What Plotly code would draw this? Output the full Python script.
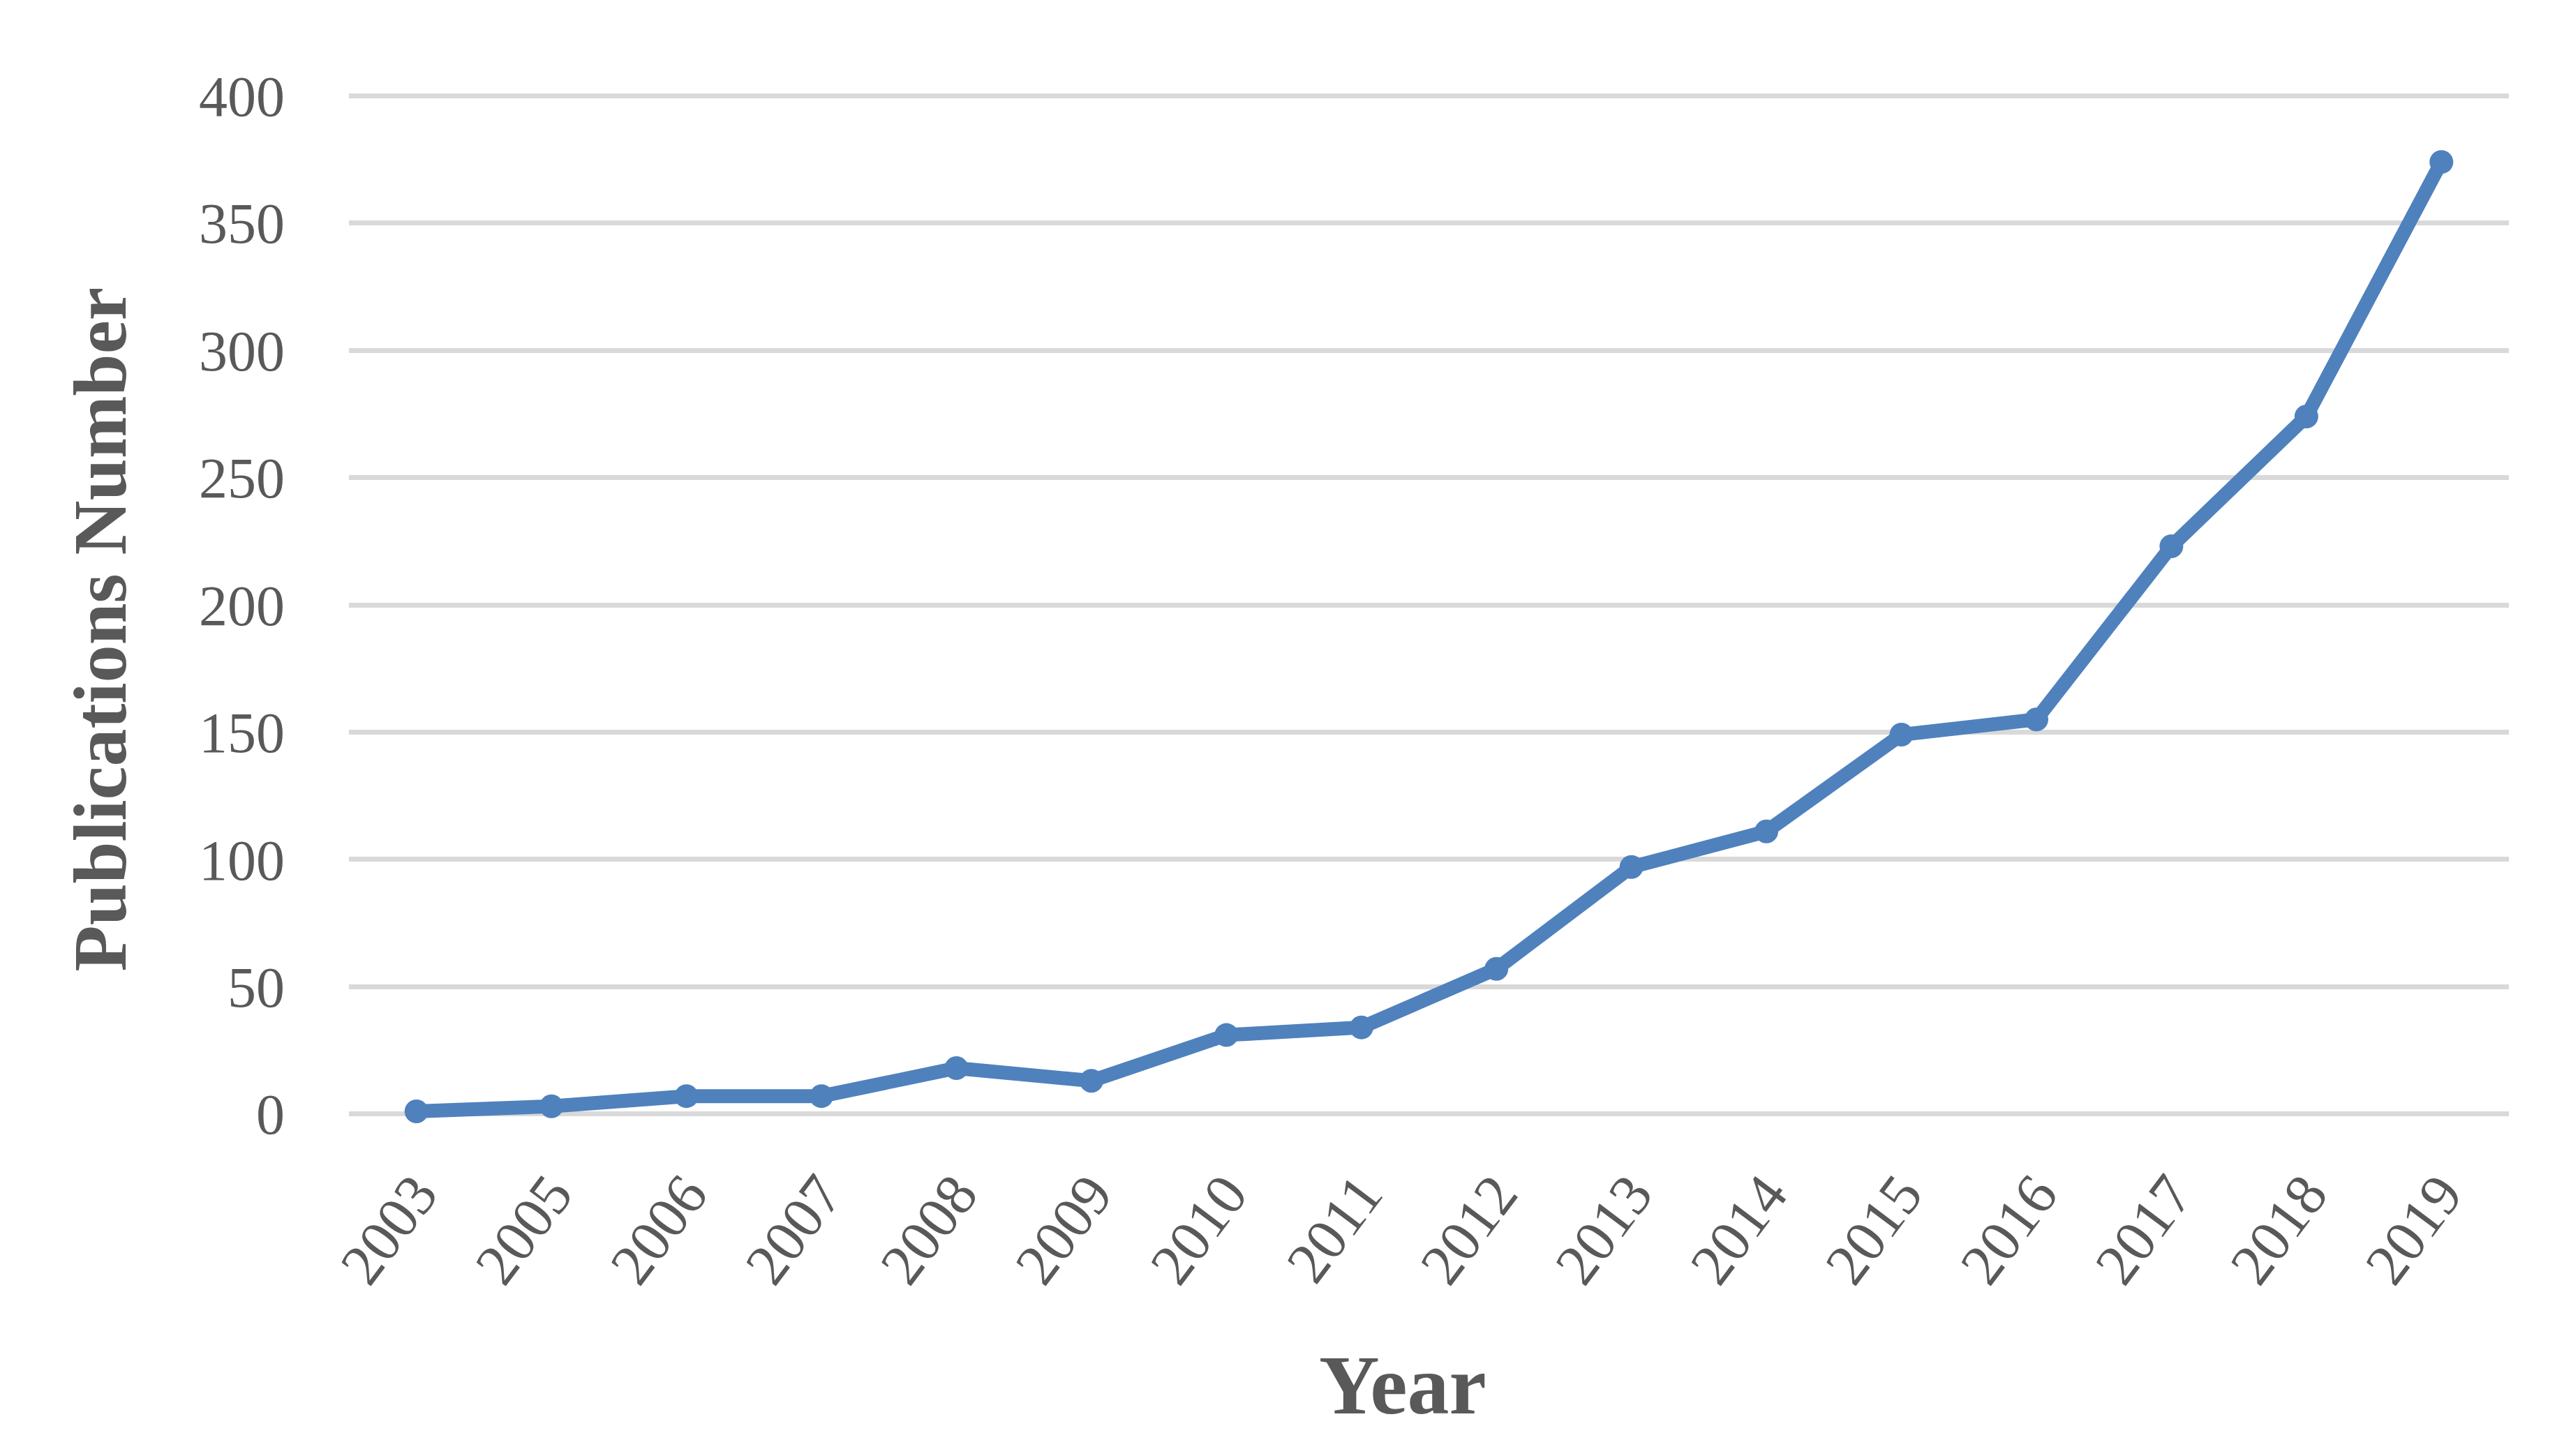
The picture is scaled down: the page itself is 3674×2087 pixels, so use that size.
import plotly.graph_objects as go

years = ["2003", "2005", "2006", "2007", "2008", "2009", "2010", "2011",
         "2012", "2013", "2014", "2015", "2016", "2017", "2018", "2019"]
publications = [1, 3, 7, 7, 18, 13, 31, 34, 57, 97, 111, 149, 155, 223, 274, 374]
y_ticks = [0, 50, 100, 150, 200, 250, 300, 350, 400]

FONT = "Book Antiqua, Palatino Linotype, Palatino, Liberation Serif, serif"
GREY = "#595959"

fig = go.Figure(
    go.Scatter(
        x=years, y=publications, mode="lines+markers",
        line=dict(color="#4F81BD", width=20),
        marker=dict(color="#4F81BD", size=34),
        cliponaxis=False,
    )
)

fig.update_layout(
    width=3674, height=2087,
    margin=dict(l=492, r=87, t=122, b=491),
    paper_bgcolor="white", plot_bgcolor="white",
    showlegend=False,
    font=dict(family=FONT, color=GREY),
    annotations=[
        dict(text="<b>Year</b>", xref="paper", yref="paper", x=0.4880, y=-0.2585,
             xanchor="center", yanchor="middle", showarrow=False,
             font=dict(size=120, family=FONT, color=GREY)),
        dict(text="<b>Publications Number</b>", xref="paper", yref="paper",
             x=-0.1153, y=0.4760, textangle=-90,
             xanchor="center", yanchor="middle", showarrow=False,
             font=dict(size=108, family=FONT, color=GREY)),
    ],
)

fig.update_xaxes(
    type="category",
    range=[-0.5, len(years) - 0.5],
    tickangle=-53,
    tickfont=dict(size=84, family=FONT, color=GREY),
    showgrid=False, showline=False, zeroline=False, ticks="",
    ticklabelstandoff=40,
    automargin=False,
)
fig.update_yaxes(
    range=[-2, 402],
    tickvals=y_ticks,
    tickfont=dict(size=82, family=FONT, color=GREY),
    showgrid=True, gridcolor="#D9D9D9", gridwidth=7,
    zeroline=False, showline=False, ticks="",
    ticklabelstandoff=91,
    automargin=False,
)

fig.write_html("out.html")
